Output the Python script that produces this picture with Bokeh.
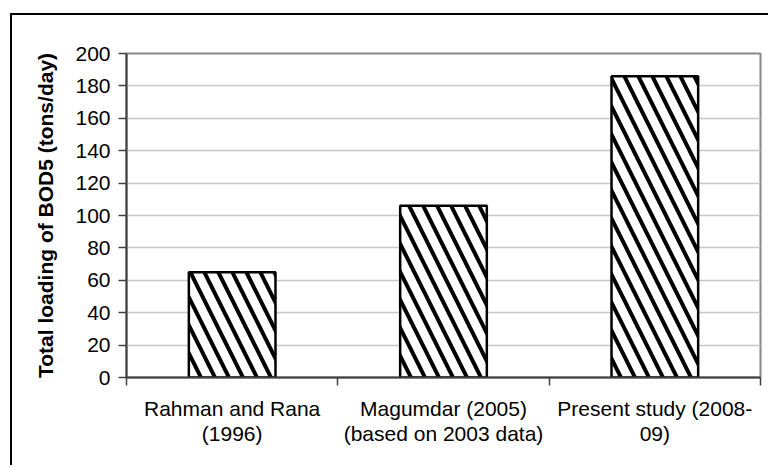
import numpy as np
from bokeh.plotting import figure
from bokeh.models import Range1d, FixedTicker
from bokeh.embed import file_html
from bokeh.resources import INLINE

# Studies compared and their estimated BOD5 loading (tons/day)
studies = ["Rahman and Rana\n(1996)",
           "Magumdar (2005)\n(based on 2003 data)",
           "Present study (2008-\n09)"]
bod5_load = [65, 106, 186]
y_ticks = [0, 20, 40, 60, 80, 100, 120, 140, 160, 180, 200]

FONT = "Liberation Sans"

x_pos = np.arange(len(studies)) + 0.5

p = figure(width=758, height=452,
           x_range=Range1d(0, len(studies)), y_range=Range1d(0, 200),
           output_backend="svg", toolbar_location=None,
           min_border_left=114, min_border_top=38,
           min_border_right=10, min_border_bottom=90)
p.margin = (13, 0, 0, 10)
p.styles = {"border-left": "2px solid #000000", "border-top": "2px solid #000000"}

p.background_fill_color = "white"
p.border_fill_color = "white"
p.outline_line_color = "#888888"
p.outline_line_width = 2

# hatched bars
p.vbar(x=x_pos, top=bod5_load, width=0.41, bottom=0,
       fill_color="white", line_color="black", line_width=2.5,
       hatch_pattern="\\", hatch_color="black", hatch_weight=4, hatch_scale=28)

# y axis
p.yaxis.ticker = FixedTicker(ticks=y_ticks)
p.yaxis.axis_label = "Total loading of BOD5 (tons/day)"
p.yaxis.axis_label_text_font = FONT
p.yaxis.axis_label_text_font_style = "bold"
p.yaxis.axis_label_text_font_size = "21px"
p.yaxis.axis_label_text_color = "black"
p.yaxis.axis_label_standoff = 15
p.yaxis.major_label_text_font = FONT
p.yaxis.major_label_text_font_size = "21px"
p.yaxis.major_label_text_color = "black"
p.yaxis.major_label_standoff = 8
p.yaxis.major_tick_in = 0
p.yaxis.major_tick_out = 8
p.yaxis.minor_tick_line_color = None
p.yaxis.axis_line_color = "#404040"
p.yaxis.axis_line_width = 2
p.yaxis.major_tick_line_color = "#404040"
p.yaxis.major_tick_line_width = 1.5

# x axis: labels at bar centres, tick marks between categories
p.xaxis.ticker = FixedTicker(ticks=list(x_pos),
                             minor_ticks=list(range(len(studies) + 1)))
p.xaxis.major_label_overrides = {float(x): s for x, s in zip(x_pos, studies)}
p.xaxis.major_label_text_font = FONT
p.xaxis.major_label_text_font_size = "21px"
p.xaxis.major_label_text_color = "black"
p.xaxis.major_label_text_line_height = 1.1
p.xaxis.major_label_standoff = 11
p.xaxis.major_tick_line_color = None
p.xaxis.minor_tick_in = 0
p.xaxis.minor_tick_out = 8
p.xaxis.minor_tick_line_color = "#404040"
p.xaxis.minor_tick_line_width = 1.5
p.xaxis.axis_line_color = "#404040"
p.xaxis.axis_line_width = 2

# grid
p.xgrid.grid_line_color = None
p.ygrid.grid_line_color = "#c8c8c8"
p.ygrid.grid_line_width = 1.5

open("out.html", "w").write(file_html(p, INLINE))
